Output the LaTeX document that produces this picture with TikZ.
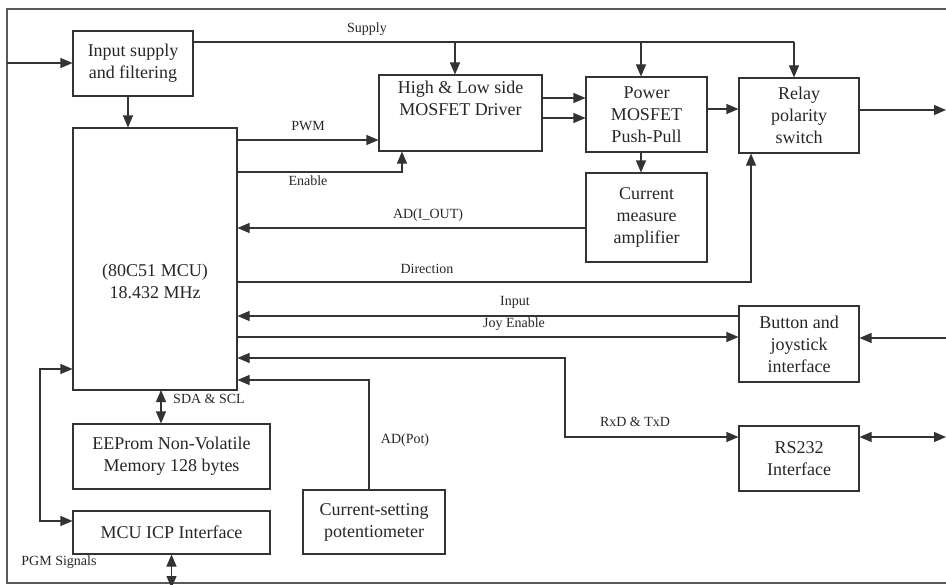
\documentclass[tikz,border=0pt]{standalone}
\usepackage{fontspec}
\setmainfont{Liberation Serif}
\usetikzlibrary{arrows.meta}

\tikzset{
  blk/.style={draw=black!80, line width=0.8pt, inner sep=0pt, align=center,
    text=black!85, font=\fontsize{13.5}{16.5}\selectfont},
  sig/.style={draw=black!80, line width=0.8pt, -{Triangle[length=9pt,width=7.5pt]}},
  sigb/.style={sig, {Triangle[length=9pt,width=7.5pt]}-{Triangle[length=9pt,width=7.5pt]}},
  wire/.style={draw=black!80, line width=0.8pt},
  lbl/.style={text=black!85, inner sep=1pt, font=\fontsize{10.5}{12}\selectfont},
}

\begin{document}
\begin{tikzpicture}[x=0.75pt, y=-0.75pt]

    \useasboundingbox (0,0) rectangle (946,585);

    % Outer frame (cut on the right)
    \draw[wire, draw=black!65] (946,9) -- (7,9) -- (7,583) -- (946,583);

    % Blocks
    \node[blk, minimum width=90pt, minimum height=48.75pt] (insup) at (133,63.5) {Input supply\\and filtering};
    \node[blk, minimum width=123pt, minimum height=196.5pt] (mcu) at (155,259) {};
    \node[text=black!85, font=\fontsize{13.5}{16.5}\selectfont, align=center] (mcutxt) at (155,281) {(80C51 MCU)\\18.432 MHz};
    \node[blk, minimum width=122.25pt, minimum height=57pt] (hl) at (460.5,113) {High \& Low side\\MOSFET Driver\\ \strut};
    \node[blk, minimum width=90.75pt, minimum height=56.25pt] (pwr) at (646.5,114.5) {Power\\MOSFET\\Push-Pull};
    \node[blk, minimum width=90pt, minimum height=56.25pt] (relay) at (799,115.5) {Relay\\polarity\\switch};
    \node[blk, minimum width=90.75pt, minimum height=66.75pt] (cur) at (646.5,217.5) {Current\\measure\\amplifier};
    \node[blk, minimum width=90pt, minimum height=57pt] (btn) at (799,344) {Button and\\joystick\\interface};
    \node[blk, minimum width=90pt, minimum height=48.75pt] (rs) at (799,458.5) {RS232\\Interface};
    \node[blk, minimum width=147.75pt, minimum height=48.75pt] (ee) at (171.5,456.5) {EEProm Non-Volatile\\Memory 128 bytes};
    \node[blk, minimum width=147.75pt, minimum height=32.25pt] (icp) at (171.5,532.5) {MCU ICP Interface};
    \node[blk, minimum width=106.5pt, minimum height=48pt] (pot) at (374,522) {Current-setting\\potentiometer};

    % Routing points
    \coordinate (inL) at (7,63);
    \coordinate (feed) at (128,96);
    \coordinate (supA) at (455,42);
    \coordinate (supB) at (641,42);
    \coordinate (supC) at (794,42);
    \coordinate (pwmY) at (0,140);
    \coordinate (enC) at (402,172);
    \coordinate (drvA) at (0,98);
    \coordinate (drvB) at (0,118);
    \coordinate (pwrY) at (0,109);
    \coordinate (relOut) at (946,110);
    \coordinate (adiY) at (0,228);
    \coordinate (dirC) at (751,282);
    \coordinate (inpY) at (0,316);
    \coordinate (joyY) at (0,337);
    \coordinate (btnIn) at (946,338);
    \coordinate (rsA) at (565,358);
    \coordinate (rsB) at (565,437);
    \coordinate (rsOut) at (946,437);
    \coordinate (potC) at (369,380);
    \coordinate (sda) at (161,390);
    \coordinate (icpA) at (40,369);
    \coordinate (icpB) at (40,521);
    \coordinate (pgm) at (0,588);

    % Supply path
    \draw[sig] (inL) -- (inL -| insup.west);
    \draw[wire] (insup.east |- supA) -- (supC);
    \draw[sig] (supA) -- (supA |- hl.north);
    \draw[sig] (supB) -- (supB |- pwr.north);
    \draw[sig] (supC) -- (supC |- relay.north);
    \draw[sig] (feed) -- (feed |- mcu.north);

    % Power stage
    \draw[sig] (mcu.east |- pwmY) -- (hl.west |- pwmY);
    \draw[sig] (mcu.east |- enC) -- (enC) -- (enC |- hl.south);
    \draw[sig] (hl.east |- drvA) -- (pwr.west |- drvA);
    \draw[sig] (hl.east |- drvB) -- (pwr.west |- drvB);
    \draw[sig] (pwr.east |- pwrY) -- (relay.west |- pwrY);
    \draw[sig] (relay.east |- relOut) -- (relOut);
    \draw[sig] (supB |- pwr.south) -- (supB |- cur.north);
    \draw[sig] (cur.west |- adiY) -- (mcu.east |- adiY);
    \draw[sig] (mcu.east |- dirC) -- (dirC) -- (dirC |- relay.south);

    % User and serial interfaces
    \draw[sig] (btn.west |- inpY) -- (mcu.east |- inpY);
    \draw[sig] (mcu.east |- joyY) -- (btn.west |- joyY);
    \draw[sig] (btnIn) -- (btnIn -| btn.east);
    \draw[sigb] (mcu.east |- rsA) -- (rsA) -- (rsB) -- (rsB -| rs.west);
    \draw[sigb] (rs.east |- rsOut) -- (rsOut);
    \draw[sig] (potC |- pot.north) -- (potC) -- (potC -| mcu.east);

    % Memory and programming
    \draw[sigb] (sda) -- (sda |- ee.north);
    \draw[sigb] (icpA -| mcu.west) -- (icpA) -- (icpB) -- (icpB -| icp.west);
    \draw[sigb] (icp.south) -- (icp.south |- pgm);

    % Signal labels
    \node[lbl] (lsup) at (367,29) {Supply};
    \node[lbl] (lpwm) at (308,126) {PWM};
    \node[lbl] (len) at (308,181) {Enable};
    \node[lbl] (ladi) at (428,215) {AD(I\_OUT)};
    \node[lbl] (ldir) at (427,269) {Direction};
    \node[lbl] (linp) at (515,302) {Input};
    \node[lbl] (ljoy) at (514,324) {Joy Enable};
    \node[lbl] (lrs) at (635,422) {RxD \& TxD};
    \node[lbl] (lpot) at (405,440) {AD(Pot)};
    \node[lbl] (lsda) at (209,399) {SDA \& SCL};
    \node[lbl] (lpgm) at (59,562) {PGM Signals};

\end{tikzpicture}
\end{document}
